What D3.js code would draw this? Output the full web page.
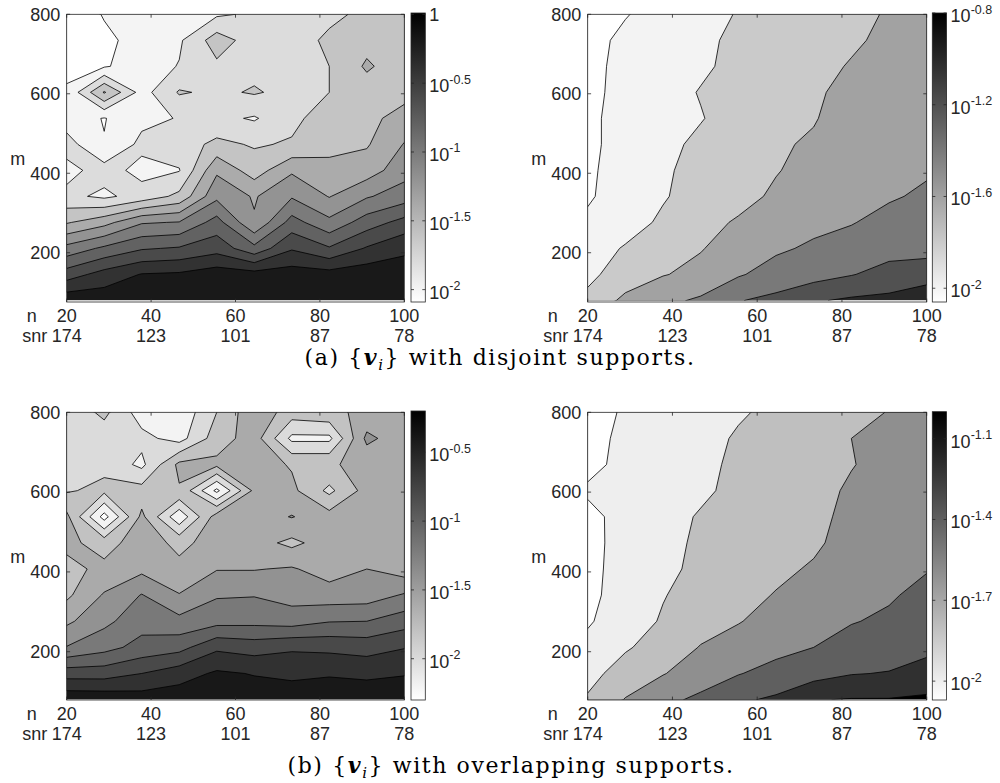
<!DOCTYPE html>
<html>
<head>
<meta charset="utf-8">
<script src="https://cdn.jsdelivr.net/npm/d3@7"></script>
<style>
  body { margin: 0; background: #fff; }
  svg { display: block; }
  text { font-family: "Liberation Sans", Arial, Helvetica, sans-serif; fill: #262626; }
  .caption { font-family: "DejaVu Serif", serif; fill: #000; letter-spacing: 1.6px; }
</style>
</head>
<body>
<div id="chart"></div>
<script>
// grid of the experiment: n (columns) and m (rows)
const nGrid = [20, 28.89, 37.78, 46.67, 55.56, 64.44, 73.33, 82.22, 91.11, 100];
const mGrid = [80, 145.5, 210.9, 276.4, 341.8, 407.3, 472.7, 538.2, 603.6, 669.1, 734.5, 800];

const nTicks = [20, 40, 60, 80, 100];
const snrLabels = ["174", "123", "101", "87", "78"];
const mTicks = [200, 400, 600, 800];

// log10 of the error, one row per m (first row m = 80, last row m = 800)
const disjointLeft = [
  [-0.06, -0.08, -0.10, -0.07, -0.05, -0.05, -0.04, -0.03, -0.02, 0.00],
  [-0.50, -0.32, -0.19, -0.17, -0.09, -0.12, -0.10, -0.12, -0.08, -0.10],
  [-0.93, -0.76, -0.62, -0.58, -0.48, -0.74, -0.42, -0.58, -0.38, -0.24],
  [-1.42, -1.27, -1.02, -0.99, -0.72, -1.18, -0.72, -0.95, -0.70, -0.53],
  [-1.75, -1.84, -1.72, -1.55, -1.05, -1.22, -1.02, -1.21, -1.02, -0.90],
  [-1.86, -1.72, -1.86, -1.81, -1.235, -1.50, -1.23, -1.35, -1.30, -1.08],
  [-1.72, -1.99, -1.75, -1.70, -1.55, -1.62, -1.58, -1.45, -1.42, -1.19],
  [-1.90, -2.01, -1.85, -1.79, -1.75, -1.82, -1.65, -1.50, -1.45, -1.33],
  [-1.98, -1.38, -1.88, -1.58, -1.64, -1.58, -1.66, -1.60, -1.50, -1.46],
  [-2.04, -2.02, -1.90, -1.79, -1.64, -1.66, -1.70, -1.60, -1.37, -1.52],
  [-2.08, -2.03, -1.95, -1.83, -1.50, -1.70, -1.72, -1.55, -1.47, -1.50],
  [-2.10, -1.99, -1.95, -1.90, -1.83, -1.77, -1.72, -1.66, -1.54, -1.55]
];

const disjointRight = [
  [-1.76, -1.55, -1.45, -1.37, -1.21, -1.15, -1.02, -0.97, -0.95, -0.82],
  [-1.84, -1.72, -1.61, -1.55, -1.42, -1.32, -1.28, -1.21, -1.13, -1.12],
  [-1.91, -1.78, -1.68, -1.61, -1.52, -1.43, -1.37, -1.32, -1.27, -1.25],
  [-1.97, -1.90, -1.76, -1.66, -1.58, -1.50, -1.45, -1.41, -1.34, -1.30],
  [-2.02, -1.92, -1.82, -1.70, -1.66, -1.57, -1.49, -1.45, -1.42, -1.37],
  [-2.03, -1.92, -1.83, -1.73, -1.68, -1.61, -1.54, -1.47, -1.46, -1.42],
  [-2.04, -1.93, -1.85, -1.76, -1.70, -1.62, -1.58, -1.50, -1.48, -1.45],
  [-2.04, -1.93, -1.86, -1.81, -1.72, -1.63, -1.61, -1.53, -1.50, -1.48],
  [-2.05, -1.94, -1.87, -1.79, -1.74, -1.65, -1.62, -1.56, -1.52, -1.50],
  [-2.05, -1.95, -1.88, -1.83, -1.75, -1.67, -1.64, -1.59, -1.55, -1.53],
  [-2.06, -1.96, -1.90, -1.84, -1.76, -1.69, -1.66, -1.62, -1.57, -1.55],
  [-2.06, -2.01, -1.93, -1.86, -1.79, -1.72, -1.68, -1.66, -1.58, -1.56]
];

const overlapLeft = [
  [-0.25, -0.26, -0.30, -0.28, -0.22, -0.30, -0.27, -0.27, -0.25, -0.30],
  [-0.69, -0.69, -0.60, -0.49, -0.37, -0.41, -0.45, -0.42, -0.45, -0.41],
  [-1.19, -1.07, -0.93, -0.87, -0.64, -0.69, -0.63, -0.65, -0.68, -0.61],
  [-1.44, -1.25, -1.08, -1.14, -1.07, -1.06, -1.09, -1.01, -1.00, -0.89],
  [-1.64, -1.38, -1.19, -1.39, -1.22, -1.21, -1.28, -1.31, -1.30, -1.18],
  [-1.66, -1.55, -1.45, -1.55, -1.41, -1.41, -1.38, -1.49, -1.40, -1.50],
  [-1.55, -1.68, -1.50, -1.65, -1.52, -1.52, -1.65, -1.50, -1.48, -1.52],
  [-1.55, -2.28, -1.55, -2.15, -1.50, -1.50, -1.39, -1.52, -1.50, -1.55],
  [-1.82, -1.75, -1.72, -1.62, -2.25, -1.55, -1.55, -1.85, -1.52, -1.56],
  [-1.90, -1.85, -2.05, -1.55, -1.55, -1.50, -1.62, -1.62, -1.55, -1.50],
  [-1.90, -1.92, -1.94, -2.08, -1.70, -1.50, -2.05, -2.05, -1.35, -1.52],
  [-1.95, -1.75, -2.10, -2.15, -1.80, -1.45, -1.70, -1.65, -1.55, -1.50]
];

const overlapRight = [
  [-1.78, -1.59, -1.45, -1.36, -1.23, -1.17, -1.01, -0.99, -0.99, -0.97],
  [-1.86, -1.72, -1.61, -1.50, -1.41, -1.33, -1.28, -1.21, -1.19, -1.12],
  [-1.95, -1.82, -1.72, -1.59, -1.52, -1.46, -1.40, -1.33, -1.30, -1.25],
  [-2.02, -1.90, -1.78, -1.68, -1.61, -1.53, -1.48, -1.41, -1.37, -1.30],
  [-2.04, -1.93, -1.81, -1.72, -1.66, -1.59, -1.53, -1.46, -1.42, -1.35],
  [-2.05, -1.93, -1.86, -1.74, -1.68, -1.64, -1.58, -1.50, -1.44, -1.41],
  [-2.05, -1.94, -1.87, -1.76, -1.70, -1.66, -1.63, -1.53, -1.46, -1.44],
  [-2.04, -1.95, -1.88, -1.78, -1.72, -1.67, -1.65, -1.55, -1.48, -1.46],
  [-1.98, -1.95, -1.89, -1.84, -1.74, -1.69, -1.67, -1.57, -1.50, -1.48],
  [-2.04, -1.96, -1.90, -1.85, -1.76, -1.71, -1.68, -1.61, -1.53, -1.50],
  [-2.06, -1.96, -1.92, -1.86, -1.78, -1.73, -1.70, -1.60, -1.55, -1.52],
  [-2.07, -1.98, -1.93, -1.88, -1.82, -1.76, -1.72, -1.68, -1.59, -1.55]
];

// contour levels (log10)
const levelsDisjointLeft = [-2, -1.8, -1.6, -1.4, -1.2, -1, -0.8, -0.6, -0.4, -0.2];
const levelsDisjointRight = [-2, -1.8, -1.6, -1.4, -1.2, -1];
const levelsOverlapLeft = [-2.2, -2, -1.8, -1.6, -1.4, -1.2, -1, -0.8, -0.6, -0.4];
const levelsOverlapRight = [-2, -1.8, -1.6, -1.4, -1.2, -1];

// colour limits and colorbar ticks (log10)
const climDisjointLeft = [-2.09, 0.01];
const climDisjointRight = [-2.06, -0.8];
const climOverlapLeft = [-2.3, -0.2];
const climOverlapRight = [-2.07, -1.0];
const barTicksDisjointLeft = [0, -0.5, -1, -1.5, -2];
const barTicksDisjointRight = [-0.8, -1.2, -1.6, -2];
const barTicksOverlapLeft = [-0.5, -1, -1.5, -2];
const barTicksOverlapRight = [-1.1, -1.4, -1.7, -2];

const width = 1000, height = 783;
const ink = "#262626";
const tickLen = 3.4;

const svg = d3.select("#chart").append("svg")
  .attr("width", width)
  .attr("height", height);

const defs = svg.append("defs");
const grad = defs.append("linearGradient")
  .attr("id", "grayBar")
  .attr("x1", 0).attr("y1", 1).attr("x2", 0).attr("y2", 0);
grad.append("stop").attr("offset", 0).attr("stop-color", "#ffffff");
grad.append("stop").attr("offset", 1).attr("stop-color", "#000000");

// layout of the four axes
const panels = [
  {id: "a1", values: disjointLeft, levels: levelsDisjointLeft, clim: climDisjointLeft, barTicks: barTicksDisjointLeft,
   left: 66.7, right: 404.3, top: 14.3, bottom: 302, mMin: 76, barX: 411, barTop: 13, barBottom: 302},
  {id: "a2", values: disjointRight, levels: levelsDisjointRight, clim: climDisjointRight, barTicks: barTicksDisjointRight,
   left: 587.7, right: 926.7, top: 14.3, bottom: 302, mMin: 76, barX: 932.3, barTop: 13, barBottom: 302},
  {id: "b1", values: overlapLeft, levels: levelsOverlapLeft, clim: climOverlapLeft, barTicks: barTicksOverlapLeft,
   left: 66.7, right: 404.3, top: 412.3, bottom: 700, mMin: 79, barX: 411, barTop: 411, barBottom: 700},
  {id: "b2", values: overlapRight, levels: levelsOverlapRight, clim: climOverlapRight, barTicks: barTicksOverlapRight,
   left: 587.7, right: 926.7, top: 412.3, bottom: 700, mMin: 79, barX: 932.3, barTop: 411.7, barBottom: 700}
];
const barW = 14.3;

panels.forEach(drawPanel);

function drawPanel(p) {
  const g = svg.append("g");

  const x = d3.scaleLinear().domain([20, 100]).range([p.left, p.right]);
  const y = d3.scaleLinear().domain([p.mMin, 800]).range([p.bottom, p.top]);
  const color = d3.scaleLinear().domain(p.clim).range(["#ffffff", "#000000"]).clamp(true);

  // d3.contours puts grid value i at i + 0.5
  const gx = d3.scaleLinear().domain([0.5, nGrid.length - 0.5]).range([nGrid[0], nGrid[nGrid.length - 1]]);
  const gy = d3.scaleLinear().domain([0.5, mGrid.length - 0.5]).range([mGrid[0], mGrid[mGrid.length - 1]]);
  const toPlot = d3.geoTransform({
    point: function(px, py) { this.stream.point(x(gx(px)), y(gy(py))); }
  });
  const path = d3.geoPath(toPlot);

  // contour the sign-flipped field so that saddles join the high side,
  // each polygon is then the region "value <= level"
  const down = p.levels.slice().reverse();
  const contours = d3.contours()
    .size([nGrid.length, mGrid.length])
    .thresholds(down.map(v => -v))(p.values.flat().map(v => -v));
  const bandColor = lev => {
    const k = p.levels.indexOf(lev);
    return k === 0 ? color(p.clim[0]) : color(p.levels[k - 1]);
  };

  const clipId = "clip-" + p.id;
  defs.append("clipPath").attr("id", clipId)
    .append("rect")
    .attr("x", x(nGrid[0]))
    .attr("y", y(mGrid[mGrid.length - 1]))
    .attr("width", x(nGrid[nGrid.length - 1]) - x(nGrid[0]))
    .attr("height", y(mGrid[0]) - y(mGrid[mGrid.length - 1]));

  const body = g.append("g").attr("clip-path", `url(#${clipId})`);

  // top band first, lower bands painted over it
  body.append("rect")
    .attr("x", x(nGrid[0]))
    .attr("y", y(mGrid[mGrid.length - 1]))
    .attr("width", x(nGrid[nGrid.length - 1]) - x(nGrid[0]))
    .attr("height", y(mGrid[0]) - y(mGrid[mGrid.length - 1]))
    .attr("fill", color(p.levels[p.levels.length - 1]));

  body.selectAll(".band")
    .data(contours)
    .enter()
    .append("path")
      .attr("class", "band")
      .attr("d", path)
      .attr("fill", (d, i) => bandColor(down[i]))
      .attr("stroke", "none");

  body.selectAll(".iso")
    .data(contours)
    .enter()
    .append("path")
      .attr("class", "iso")
      .attr("d", path)
      .attr("fill", "none")
      .attr("stroke", "#000")
      .attr("stroke-width", 0.8)
      .attr("stroke-linejoin", "round");

  // axes box
  g.append("rect")
    .attr("x", p.left).attr("y", p.top)
    .attr("width", p.right - p.left).attr("height", p.bottom - p.top)
    .attr("fill", "none").attr("stroke", ink).attr("stroke-width", 0.8);

  // ticks, inside, on all four sides
  nTicks.forEach(t => {
    g.append("line").attr("x1", x(t)).attr("x2", x(t)).attr("y1", p.bottom).attr("y2", p.bottom - tickLen)
      .attr("stroke", ink).attr("stroke-width", 0.8);
    g.append("line").attr("x1", x(t)).attr("x2", x(t)).attr("y1", p.top).attr("y2", p.top + tickLen)
      .attr("stroke", ink).attr("stroke-width", 0.8);
  });
  mTicks.forEach(t => {
    g.append("line").attr("x1", p.left).attr("x2", p.left + tickLen).attr("y1", y(t)).attr("y2", y(t))
      .attr("stroke", ink).attr("stroke-width", 0.8);
    g.append("line").attr("x1", p.right).attr("x2", p.right - tickLen).attr("y1", y(t)).attr("y2", y(t))
      .attr("stroke", ink).attr("stroke-width", 0.8);
  });

  // tick labels
  g.selectAll(".mlab").data(mTicks).enter().append("text")
    .attr("x", p.left - 6.5).attr("y", d => y(d) + 6.3)
    .attr("text-anchor", "end").attr("font-size", 18)
    .text(d => d);

  g.selectAll(".nlab").data(nTicks).enter().append("text")
    .attr("x", d => x(d)).attr("y", p.bottom + 19.5)
    .attr("text-anchor", "middle").attr("font-size", 18)
    .text(d => d);

  g.selectAll(".snrlab").data(snrLabels).enter().append("text")
    .attr("x", (d, i) => x(nTicks[i])).attr("y", p.bottom + 39.5)
    .attr("text-anchor", "middle").attr("font-size", 18)
    .text(d => d);

  g.append("text").attr("x", p.left - 30).attr("y", p.bottom + 19.5)
    .attr("text-anchor", "end").attr("font-size", 18).text("n");
  g.append("text").attr("x", p.left - 19.5).attr("y", p.bottom + 39.5)
    .attr("text-anchor", "end").attr("font-size", 18).text("snr");

  g.append("text").attr("x", p.left - 49).attr("y", (p.top + p.bottom) / 2 + 6.5)
    .attr("text-anchor", "middle").attr("font-size", 18).text("m");

  // colorbar
  const cb = d3.scaleLinear().domain(p.clim).range([p.barBottom, p.barTop]);
  g.append("rect")
    .attr("x", p.barX).attr("y", p.barTop)
    .attr("width", barW).attr("height", p.barBottom - p.barTop)
    .attr("fill", "url(#grayBar)")
    .attr("stroke", ink).attr("stroke-width", 0.8);

  p.barTicks.forEach(v => {
    const ty = cb(v);
    g.append("line").attr("x1", p.barX + barW).attr("x2", p.barX + barW - 3).attr("y1", ty).attr("y2", ty)
      .attr("stroke", ink).attr("stroke-width", 0.8);
    g.append("line").attr("x1", p.barX).attr("x2", p.barX + 3).attr("y1", ty).attr("y2", ty)
      .attr("stroke", ink).attr("stroke-width", 0.8);
    const lab = g.append("text").attr("x", p.barX + barW + 4).attr("font-size", 18);
    if (v === 0) {
      lab.attr("y", ty + 6.5).text("1");
    } else {
      lab.attr("y", ty + 9);
      lab.append("tspan").text("10");
      lab.append("tspan").attr("font-size", 12.5).attr("dy", -8.5).text(String(v));
    }
  });
}

// captions
function caption(cx, cy, letter, rest) {
  const t = svg.append("text").attr("class", "caption")
    .attr("x", cx).attr("y", cy).attr("text-anchor", "middle").attr("font-size", 22);
  t.append("tspan").text("(" + letter + ") {");
  t.append("tspan").attr("font-weight", "bold").attr("font-style", "italic").text("v");
  t.append("tspan").attr("font-style", "italic").attr("font-size", 15).attr("dy", 5).text("i");
  t.append("tspan").attr("dy", -5).text("} " + rest);
}
caption(500, 365, "a", "with disjoint supports.");
caption(511, 773, "b", "with overlapping supports.");
</script>
</body>
</html>
